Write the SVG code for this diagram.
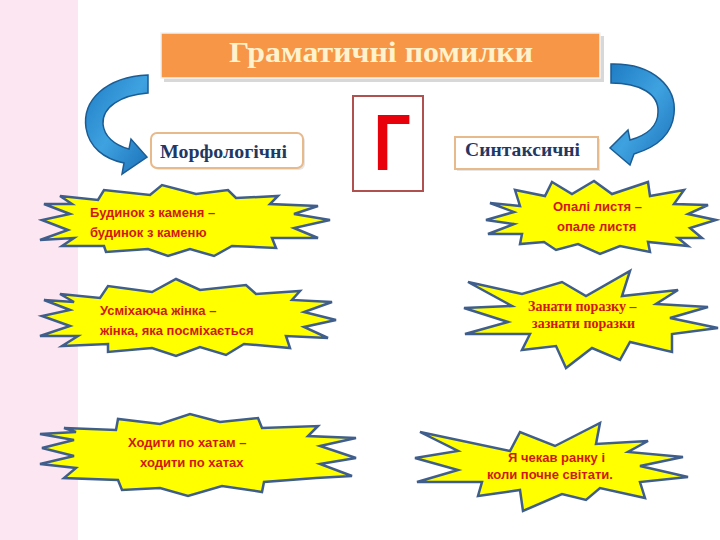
<svg xmlns="http://www.w3.org/2000/svg" width="720" height="540" viewBox="0 0 720 540">
<defs>
<style>
.star{fill:#FFFF00;stroke:#3F5E8C;stroke-width:2.5;stroke-linejoin:miter}
.st{font-family:"Liberation Sans",Arial,sans-serif;font-weight:bold;font-size:13px;fill:#D01810}
.sts{font-family:"Liberation Serif","Times New Roman",serif;font-weight:bold;font-size:14px;fill:#D01810}
.hdr{font-family:"Liberation Serif","Times New Roman",serif;font-weight:bold;font-size:19px;fill:#1F3864}
.arr{fill:url(#blue);stroke:#1B5C94;stroke-width:1.5}
</style>
<linearGradient id="blue" x1="0" y1="0" x2="1" y2="1">
<stop offset="0" stop-color="#1E7CC4"/>
<stop offset="0.5" stop-color="#3FA2E0"/>
<stop offset="1" stop-color="#1A70B8"/>
</linearGradient>
</defs>
<rect x="0" y="0" width="720" height="540" fill="#FFFFFF"/>
<rect x="0" y="0" width="78" height="540" fill="#FCE6F1"/>

<g id="title">
<rect x="164" y="36" width="440" height="46" fill="#D8D8D8"/>
<rect x="161" y="33" width="439" height="45" fill="#F79646" stroke="#F2F2F2" stroke-width="1.5"/>
<text x="381" y="62" text-anchor="middle" font-family="'Liberation Serif','Times New Roman',serif" font-weight="bold" font-size="30" fill="#FFF2CC" textLength="304" lengthAdjust="spacingAndGlyphs">Граматичні помилки</text>
</g>

<g id="connectors">
<path class="arr" d="M 148,75 C 106,77 82,100 86,128 C 89,147 104,159 124,163 L 122,174 L 147,157 L 131,139 L 129,149 C 114,145 104,136 103,124 C 102,107 121,95 148,93 Z"/>
<path class="arr" d="M 611,64 C 654,63 677,88 674,114 C 672,134 657,147 634,154 L 630,165 L 610,148 L 628,130 L 630,140 C 648,135 658,125 658,112 C 659,94 640,83 611,83 Z"/>
</g>

<g id="morph">
<rect x="153" y="135" width="152" height="35" rx="6" fill="#E6E6E6"/>
<rect x="151" y="133" width="152" height="35" rx="6" fill="#FFFFFF" stroke="#E8B98A" stroke-width="2"/>
<text class="hdr" x="160" y="158" textLength="127" lengthAdjust="spacingAndGlyphs">Морфологічні</text>
</g>

<g id="gamma">
<rect x="353" y="96" width="70" height="95" fill="#FFFFFF" stroke="#B0504F" stroke-width="2"/>
<text transform="translate(392,170) scale(0.82,1)" text-anchor="middle" font-family="'Liberation Sans',Arial,sans-serif" font-weight="bold" font-size="80" fill="#E8000B">Г</text>
</g>

<g id="synt">
<rect x="457" y="139" width="143" height="32" fill="#E6E6E6"/>
<rect x="455" y="137" width="143" height="32" fill="#FFFFFF" stroke="#E8B98A" stroke-width="2"/>
<text class="hdr" x="465" y="156" textLength="115" lengthAdjust="spacingAndGlyphs">Синтаксичні</text>
</g>

<g id="m1">
<path class="star" d="M 60,196 L 98,200 L 104,190 L 150,195 L 162,185 L 196,194 L 228,190 L 236,198 L 278,196 L 270,204 L 318,206 L 294,214 L 330,220 L 294,228 L 318,238 L 272,238 L 276,248 L 232,246 L 214,256 L 190,249 L 168,256 L 148,249 L 106,252 L 104,246 L 62,246 L 74,238 L 40,240 L 68,230 L 42,220 L 70,214 L 44,204 L 72,204 Z"/>
<text class="st" x="90" y="217">Будинок з каменя –</text>
<text class="st" x="90" y="237">будинок з каменю</text>
</g>

<g id="m2">
<path class="star" d="M 60,294 L 100,298 L 108,286 L 152,292 L 176,279 L 200,290 L 246,285 L 256,294 L 300,291 L 292,300 L 332,302 L 304,312 L 336,320 L 304,327 L 328,338 L 286,336 L 290,348 L 244,344 L 226,355 L 200,347 L 176,356 L 152,348 L 108,352 L 108,344 L 62,346 L 78,336 L 40,336 L 70,326 L 42,316 L 70,310 L 44,300 L 74,302 Z"/>
<text class="st" x="100" y="315">Усміхаюча жінка –</text>
<text class="st" x="100" y="335">жінка, яка посміхається</text>
</g>

<g id="m3">
<path class="star" d="M 64,428 L 116,430 L 118,419 L 160,424 L 190,414 L 220,422 L 258,418 L 262,428 L 318,426 L 308,436 L 356,438 L 320,446 L 356,458 L 320,464 L 352,476 L 316,478 L 264,482 L 262,492 L 222,486 L 188,496 L 160,488 L 122,490 L 118,480 L 64,478 L 76,468 L 40,464 L 74,456 L 42,448 L 74,440 L 40,434 L 76,432 Z"/>
<text class="st" x="128" y="447">Ходити по хатам –</text>
<text class="st" x="140" y="467">ходити по хатах</text>
</g>

<g id="s1">
<path class="star" d="M 490,203 L 520,206 L 515,190 L 545,196 L 552,182 L 572,194 L 594,181 L 612,194 L 648,182 L 650,196 L 684,190 L 674,204 L 708,205 L 688,214 L 716,220 L 690,228 L 702,238 L 678,238 L 688,246 L 648,242 L 650,252 L 620,246 L 600,254 L 578,244 L 556,250 L 544,242 L 520,244 L 522,234 L 488,234 L 514,224 L 486,220 L 514,212 Z"/>
<text class="st" x="553" y="211">Опалі листя –</text>
<text class="st" x="557" y="231">опале листя</text>
</g>

<g id="s2">
<path class="star" d="M 468,282 L 522,294 L 562,282 L 586,296 L 630,271 L 622,296 L 678,290 L 656,304 L 708,307 L 670,318 L 718,328 L 672,334 L 672,352 L 630,342 L 620,360 L 592,348 L 566,368 L 556,346 L 522,350 L 530,334 L 465,334 L 508,322 L 464,308 L 512,306 Z"/>
<text class="sts" x="528" y="311">Занати поразку –</text>
<text class="sts" x="532" y="328">зазнати поразки</text>
</g>

<g id="s3">
<path class="star" d="M 420,432 L 510,451 L 520,432 L 555,446 L 600,423 L 596,444 L 648,441 L 628,452 L 683,457 L 640,466 L 688,477 L 640,482 L 645,498 L 600,488 L 586,500 L 562,494 L 523,511 L 520,490 L 478,496 L 482,482 L 417,482 L 458,470 L 415,458 L 458,451 Z"/>
<text class="st" x="508" y="462">Я чекав ранку і</text>
<text class="st" x="487" y="479">коли почне світати.</text>
</g>
</svg>
